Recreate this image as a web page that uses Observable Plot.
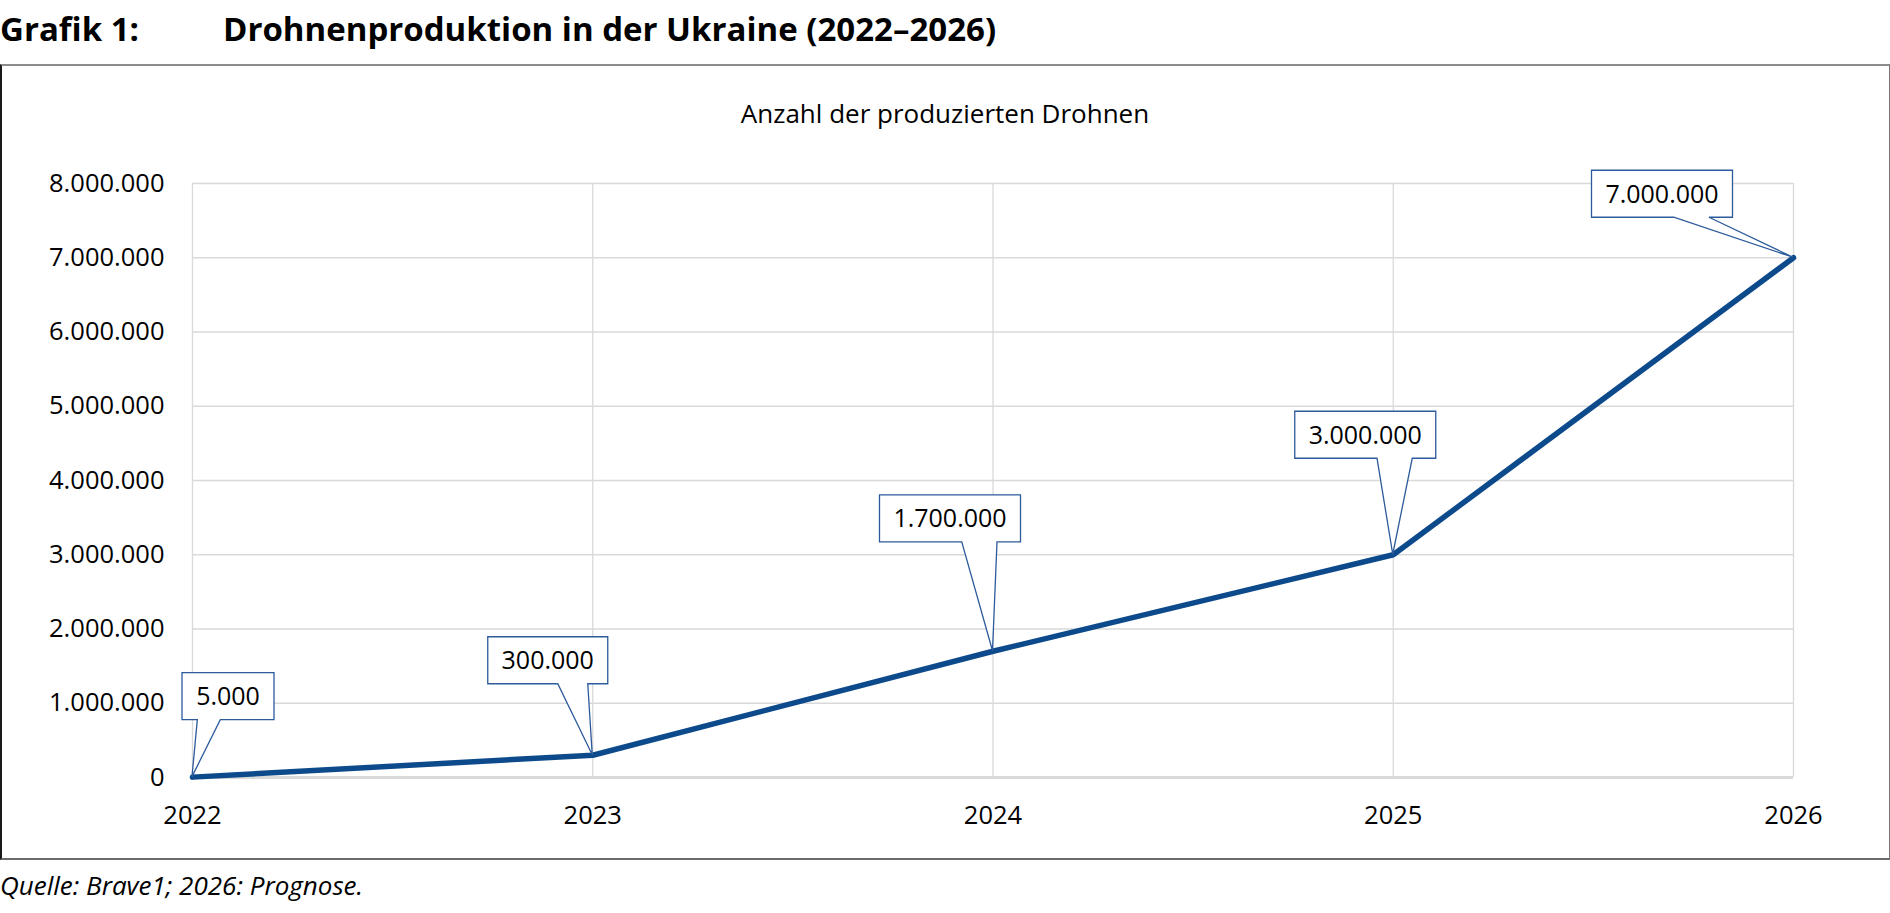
<!DOCTYPE html>
<html>
<head>
<meta charset="utf-8">
<script src="https://cdn.jsdelivr.net/npm/d3@7"></script>
<script src="https://cdn.jsdelivr.net/npm/@observablehq/plot@0.6"></script>
<style>
  html, body { margin: 0; padding: 0; background: #fff; }
  body { width: 1890px; height: 913px; position: relative; overflow: hidden; font-family: "Open Sans", sans-serif; color: #000; }
  #title { position: absolute; top: 12px; left: 0; font-size: 33px; line-height: 33px; font-weight: 700; white-space: nowrap; }
  #title .num { position: absolute; left: 0; }
  #title .txt { position: absolute; left: 223px; }
  #frame { position: absolute; left: 0; top: 64px; width: 1890px; height: 796px; box-sizing: border-box;
           border-top: 2px solid #8c8c8c; border-left: 2px solid #1a1a1a; border-right: 1px solid #777; border-bottom: 2px solid #6b6b6b; }
  #subtitle { position: absolute; top: 100px; left: 0; width: 1890px; text-align: center; font-size: 26px; line-height: 26px; white-space: nowrap; }
  #chart { position: absolute; top: 140px; left: 2px; }
  #caption { position: absolute; top: 872px; left: 0; font-size: 26px; line-height: 26px; font-style: italic; white-space: nowrap; }
</style>
</head>
<body>
<div id="title"><span class="num">Grafik 1:</span><span class="txt">Drohnenproduktion in der Ukraine (2022–2026)</span></div>
<div id="frame"></div>
<div id="subtitle">Anzahl der produzierten Drohnen</div>
<div id="chart"></div>
<div id="caption">Quelle: Brave1; 2026: Prognose.</div>
<script>
// ---- data ----
const years = [2022, 2023, 2024, 2025, 2026];
const drones = [5000, 300000, 1700000, 3000000, 7000000];
const yTicks = [0, 1000000, 2000000, 3000000, 4000000, 5000000, 6000000, 7000000, 8000000];

// ---- callout layout (pixel offsets of box centre/bottom from point) ----
const calloutDx = [36, -44.5, -42.5, -27.5, -131];
const calloutDy = [-57, -71, -109, -96, -40];

const data = years.map((year, i) => ({year, value: drones[i]}));
const de = d3.formatLocale({decimal: ",", thousands: ".", grouping: [3], currency: ["", " €"]});
const fmt = de.format(",d");

const LINE = "#0d4a8b";
const CALLOUT = "#2c5a9b";
const GRID = "#d9d9d9";

const measure = (() => {
  const ctx = document.createElement("canvas").getContext("2d");
  ctx.font = "25px 'Open Sans'";
  return s => ctx.measureText(s).width;
})();

function callouts(index, scales) {
  const g = d3.create("svg:g").attr("font-family", "'Open Sans', sans-serif").attr("font-size", 25);
  data.forEach((d, i) => {
    const px = scales.x(d.year), py = scales.y(d.value);
    const label = fmt(d.value);
    const w = Math.round(measure(label) + 28), h = 47;
    const cx = px + calloutDx[i], y1 = py + calloutDy[i];
    const x0 = cx - w / 2, x1 = cx + w / 2, y0 = y1 - h;
    const right = px > cx;
    const bL = x0 + w * (right ? 7 : 2) / 12, bR = x0 + w * (right ? 10 : 5) / 12;
    g.append("path")
      .attr("d", `M${x0},${y0}H${x1}V${y1}H${bR}L${px},${py}L${bL},${y1}H${x0}Z`)
      .attr("fill", "#fff").attr("stroke", CALLOUT).attr("stroke-width", 1.3)
      .attr("stroke-linejoin", "miter");
    g.append("text").attr("x", cx).attr("y", (y0 + y1) / 2).attr("dy", "0.36em")
      .attr("text-anchor", "middle").attr("fill", "#000").text(label);
  });
  return g.node();
}

const chart = Plot.plot({
  width: 1886,
  height: 700,
  marginLeft: 190,
  marginRight: 95,
  marginTop: 43,
  marginBottom: 63,
  style: {background: "transparent", fontFamily: "'Open Sans', sans-serif", fontSize: "25.5px", color: "#000", overflow: "visible"},
  x: {domain: [2022, 2026], ticks: years, tickFormat: d => String(d), tickSize: 0, tickPadding: 28, label: null},
  y: {domain: [0, 8000000], ticks: yTicks, tickFormat: fmt, tickSize: 0, tickPadding: 28, label: null},
  marks: [
    Plot.ruleX(years, {stroke: GRID, strokeWidth: 1.3}),
    Plot.ruleY(yTicks, {stroke: GRID, strokeWidth: 1.3}),
    Plot.ruleY([0], {stroke: GRID, strokeWidth: 3}),
    Plot.line(data, {x: "year", y: "value", stroke: LINE, strokeWidth: 5.5, strokeLinejoin: "round", strokeLinecap: "round"}),
    callouts
  ]
});
document.getElementById("chart").append(chart);
</script>
</body>
</html>
